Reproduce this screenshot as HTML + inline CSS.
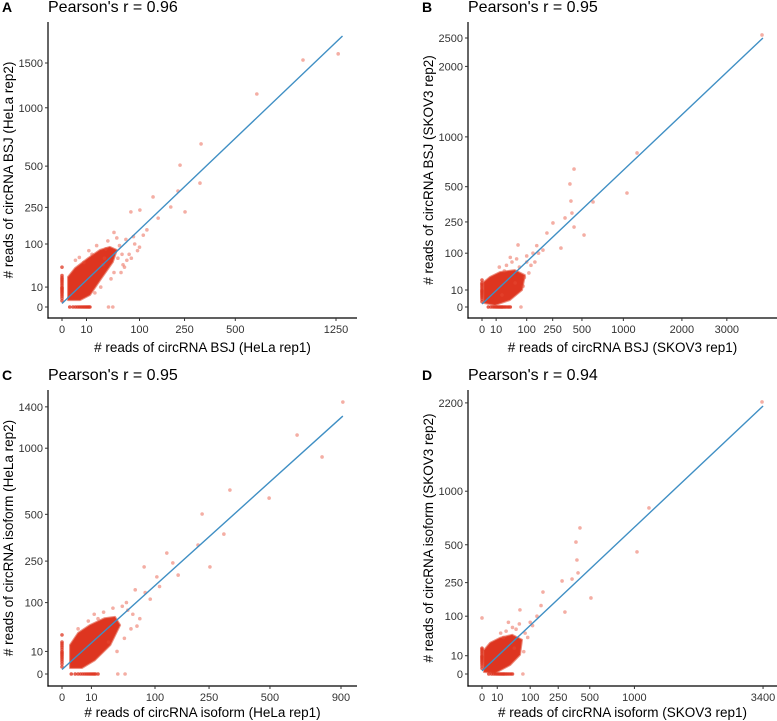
<!DOCTYPE html>
<html><head><meta charset="utf-8">
<style>
html,body{margin:0;padding:0;background:#fff;}
svg{display:block;font-family:"Liberation Sans",Arial,sans-serif;}
</style></head>
<body>
<svg id="fig" width="777" height="721" viewBox="0 0 777 721"></svg>
<script>
// ---------- Panel A data ----------
const aXTicks=[0,10,100,250,500,1250];
const aYTicks=[0,10,100,250,500,1000,1500];
const aFitX=[0,1310];
const aFitY=[0.3,1850];
const aCoreX=[0.6,0.6,2.8,11.3,24,38,50,43,24,13,5.4];
const aCoreY=[1.2,22.7,38,60,82,91,82,51,18,3.6,1.2];
const aPtX=[1270,967,632,322,232,317,224,252,197,138,154,101,79,43,36,60,70,55,88,95,45,30,65,110,28,120,
  20,35,50,62,75,40,25,15,8,58,80,68,18,45,32,100,85,52,3,5,12];
const aPtY=[1615,1537,1143,670,507,387,339,228,252,305,199,237,228,0,0,70,55,95,100,80,30,60,40,130,45,150,
  95,110,120,45,70,20,10,70,50,30,60,115,5,140,85,90,125,60,55,62,80];
const aZeroRowX=[1,2,3,4,5,6,7,8,9,10,11,12,13];
const aZeroColY=[1,2,3,4,5,6,7,8,9,10,12,14,16,18,20,22,25,40];

// ---------- Panel B data ----------
const bXTicks=[0,10,100,250,500,1000,2000,3000];
const bYTicks=[0,10,100,250,500,1000,2000,2500];
const bFitX=[0,3950];
const bFitY=[0.3,2500];
const bCoreX=[0.2,0.2,3.2,16,54,92,80,39,8.5];
const bCoreY=[0.55,21.6,31,42,47,35,10,1.7,0.14];
const bPtX=[3924,1203,1052,424,387,396,405,424,521,617,345,312,252,211,65,76,186,100,120,150,90,60,130,
  30,45,70,110,140,25,15,55,85,100,40,20,160];
const bPtY=[2557,820,449,657,523,388,305,221,179,381,274,120,244,189,133,0,112,90,60,130,30,80,100,
  60,70,55,40,70,45,55,20,15,70,85,5,100];
const bZeroRowX=[2,4,6,8,10,12,14,16,18,20,22,25,28,32,36,40];
const bZeroColY=[1,2,3,4,5,6,7,8,9,10,12,14,16,18,20,25];

// ---------- Panel C data ----------
const cXTicks=[0,10,100,250,500,900];
const cYTicks=[0,10,100,250,500,1000,1400];
const cFitX=[0,912];
const cFitY=[0.4,1305];
const cCoreX=[0.74,0.74,3,9,21,32.5,39,27,12.6,4.6];
const cCoreY=[0.7,16.5,33,47,61,64,47,16.5,3.8,0.7];
const cPtX=[912,639,782,326,496,227,303,214,253,142,127,78,104,156,62,36,46,50,70,90,45,55,110,
  20,30,42,58,65,15,25,35,8,12,48,80,3];
const cPtY=[1451,1120,924,664,607,502,384,326,225,242,287,225,185,192,139,0,0,80,60,110,25,40,150,
  75,85,90,70,45,60,20,10,55,70,100,130,40];
const cZeroRowX=[1,2,3,4,5,6,7,8,9,10,11,12,13,15];
const cZeroColY=[1,2,3,4,5,6,7,8,9,10,12,14,16,18,20,30];

// ---------- Panel D data ----------
const dXTicks=[0,10,100,250,500,1000,3400];
const dYTicks=[0,10,100,250,500,1000,2200];
const dFitX=[0,3400];
const dFitY=[0.3,2150];
const dCoreX=[0.17,0.17,2.8,14,39,69,62,34,7.3];
const dCoreY=[0.12,17,29,39,46,35,11,2.4,0.03];
const dPtX=[3375,1200,1034,413,380,388,397,349,511,276,296,160,62,72,0,100,130,90,50,150,
  25,40,60,80,110,20,15,45,75,30];
const dPtY=[2215,825,446,639,521,389,306,270,173,259,115,201,123,0,94,80,100,40,60,140,
  55,65,75,50,70,40,50,20,15,80];
const dZeroRowX=[2,4,6,8,10,12,14,16,18,20,22,25,28,32,36,40];
const dZeroColY=[1,2,3,4,5,6,7,8,9,10,12,14,16,18,20];

const NS="http://www.w3.org/2000/svg";
const svg=document.getElementById('fig');
function mk(tag,attrs,parent){const e=document.createElementNS(NS,tag);for(const k in attrs)e.setAttribute(k,attrs[k]);(parent||svg).appendChild(e);return e;}

function panel(cfg){
  const g=mk('g',{});
  
  
  const sx=v=>cfg.x0+Math.sqrt(Math.max(v,0))*cfg.xk;
  const sy=v=>cfg.y0-Math.sqrt(Math.max(v,0))*cfg.yk;
  const lt=mk('text',{x:cfg.left-46,y:cfg.top-10,'font-size':14,'font-weight':'bold',fill:'#000'},g);
  lt.textContent=cfg.id;
  
  
  const tt=mk('text',{x:cfg.left,y:cfg.top-10,'font-size':16,fill:'#000'},g);
  tt.textContent="Pearson's r = "+cfg.r;
  
  
  const pts=cfg.coreX.map((v,i)=>sx(v).toFixed(1)+','+sy(cfg.coreY[i]).toFixed(1)).join(' ');
  const core=mk('polygon',{points:pts,fill:'#de3520','stroke':'#e0432c','stroke-width':2,'stroke-linejoin':'round','stroke-opacity':0.6},g);
  
  
  cfg.zeroRowX.forEach(v=>{
    const c=mk('circle',{cx:sx(v),cy:sy(0),r:1.8,fill:'#de3520','fill-opacity':0.8},g);
    
    
  });
  cfg.zeroColY.forEach(v=>{
    const c=mk('circle',{cx:sx(0),cy:sy(v),r:1.8,fill:'#de3520','fill-opacity':0.75},g);
    
    
  });
  cfg.ptX.forEach((v,i)=>{
    const c=mk('circle',{cx:sx(v),cy:sy(cfg.ptY[i]),r:1.8,fill:'#e64b35','fill-opacity':0.45},g);
    
    
  });
  const ln=mk('line',{x1:sx(cfg.fitX[0]),y1:sy(cfg.fitY[0]),x2:sx(cfg.fitX[1]),y2:sy(cfg.fitY[1]),stroke:'#3f8fc4','stroke-width':1.4},g);
  
  
  const ya=mk('line',{x1:cfg.left,y1:cfg.top,x2:cfg.left,y2:cfg.axisY+0.6,stroke:'#000','stroke-width':1.2},g);
  
  
  const xa=mk('line',{x1:cfg.left-0.6,y1:cfg.axisY,x2:cfg.right,y2:cfg.axisY,stroke:'#000','stroke-width':1.2},g);
  
  
  cfg.xTicks.forEach(v=>{
    const x=sx(v);
    const t=mk('line',{x1:x,y1:cfg.axisY,x2:x,y2:cfg.axisY+3,stroke:'#333','stroke-width':1},g);
    
    
    const l=mk('text',{x:x,y:cfg.axisY+15,'font-size':11,fill:'#333','text-anchor':'middle'},g);
    l.textContent=v;
    
    
  });
  cfg.yTicks.forEach(v=>{
    const y=sy(v);
    const t=mk('line',{x1:cfg.left-3,y1:y,x2:cfg.left,y2:y,stroke:'#333','stroke-width':1},g);
    
    
    const l=mk('text',{x:cfg.left-5,y:y+4,'font-size':11,fill:'#333','text-anchor':'end'},g);
    l.textContent=v;
    
    
  });
  const xt=mk('text',{x:(cfg.left+cfg.right)/2,y:cfg.axisY+cfg.xTitleDy,'font-size':13.5,fill:'#000','text-anchor':'middle'},g);
  xt.textContent=cfg.xTitle;
  
  
  const yc=(cfg.top+cfg.axisY)/2;
  const yt=mk('text',{x:cfg.yTitleX,y:yc,'font-size':13.5,fill:'#000','text-anchor':'middle',transform:'rotate(-90 '+cfg.yTitleX+' '+yc+')'},g);
  yt.textContent=cfg.yTitle;
  
  
}

panel({id:'A',r:'0.96',left:48,right:357,top:22,axisY:318,x0:62,xk:7.75,y0:307,yk:6.3,yTitleX:13,xTitleDy:34,
  xTicks:aXTicks,yTicks:aYTicks,fitX:aFitX,fitY:aFitY,coreX:aCoreX,coreY:aCoreY,ptX:aPtX,ptY:aPtY,zeroRowX:aZeroRowX,zeroColY:aZeroColY,
  xTitle:'# reads of circRNA BSJ (HeLa rep1)',yTitle:'# reads of circRNA BSJ (HeLa rep2)'});
panel({id:'B',r:'0.95',left:468,right:777,top:22,axisY:318,x0:482,xk:4.47,y0:307,yk:5.38,yTitleX:433,xTitleDy:34,
  xTicks:bXTicks,yTicks:bYTicks,fitX:bFitX,fitY:bFitY,coreX:bCoreX,coreY:bCoreY,ptX:bPtX,ptY:bPtY,zeroRowX:bZeroRowX,zeroColY:bZeroColY,
  xTitle:'# reads of circRNA BSJ (SKOV3 rep1)',yTitle:'# reads of circRNA BSJ (SKOV3 rep2)'});
panel({id:'C',r:'0.95',left:48,right:357,top:390,axisY:686,x0:62,xk:9.3,y0:674,yk:7.14,yTitleX:13,xTitleDy:31,
  xTicks:cXTicks,yTicks:cYTicks,fitX:cFitX,fitY:cFitY,coreX:cCoreX,coreY:cCoreY,ptX:cPtX,ptY:cPtY,zeroRowX:cZeroRowX,zeroColY:cZeroColY,
  xTitle:'# reads of circRNA isoform (HeLa rep1)',yTitle:'# reads of circRNA isoform (HeLa rep2)'});
panel({id:'D',r:'0.94',left:468,right:777,top:390,axisY:686,x0:482,xk:4.82,y0:674,yk:5.78,yTitleX:433,xTitleDy:31,
  xTicks:dXTicks,yTicks:dYTicks,fitX:dFitX,fitY:dFitY,coreX:dCoreX,coreY:dCoreY,ptX:dPtX,ptY:dPtY,zeroRowX:dZeroRowX,zeroColY:dZeroColY,
  xTitle:'# reads of circRNA isoform (SKOV3 rep1)',yTitle:'# reads of circRNA isoform (SKOV3 rep2)'});
</script>
</body></html>
